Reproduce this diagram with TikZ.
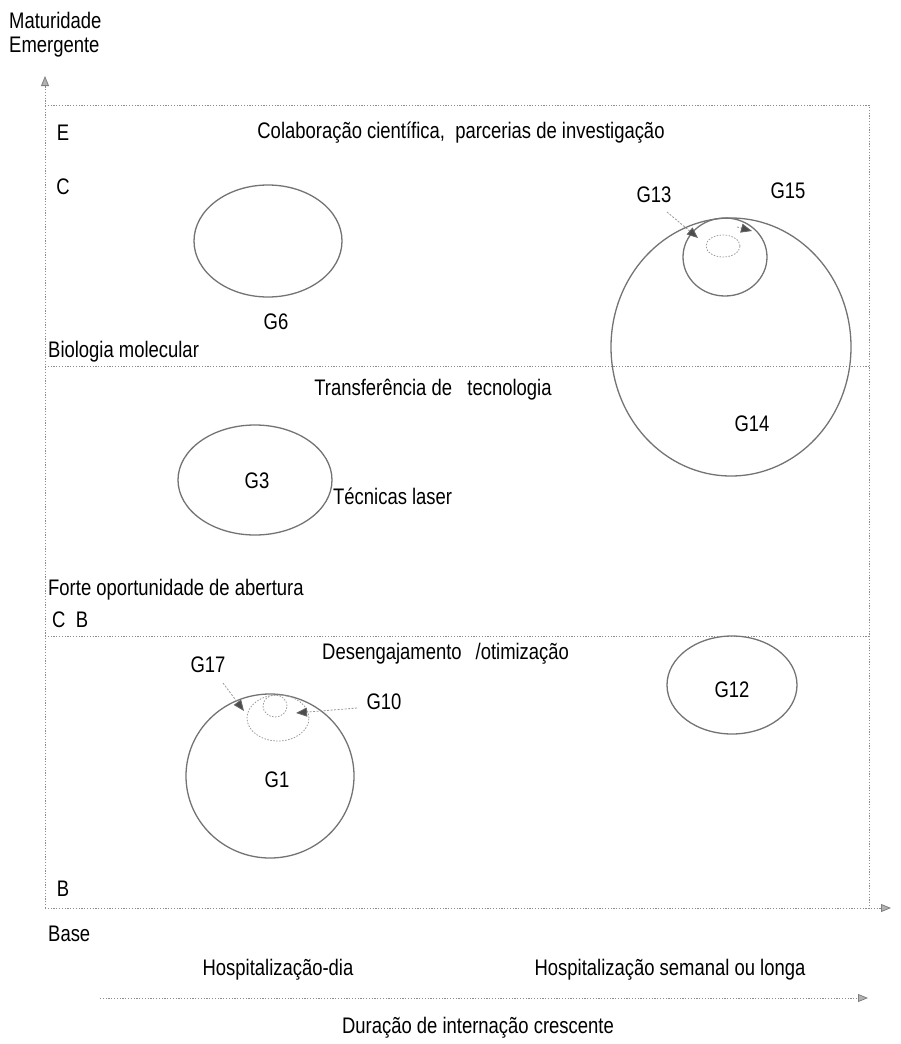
\documentclass[tikz,border=0pt]{standalone}
\usepackage{fontspec}
\setmainfont{Liberation Sans}[FakeStretch=0.82]
\usetikzlibrary{arrows.meta,shapes.geometric}
\begin{document}
\begin{tikzpicture}[x=1pt,y=-1pt,
  every node/.style={font=\fontsize{22.5}{27}\selectfont, inner sep=0pt, text=black},
  frameline/.style={draw=black!45, line width=0.8pt, dash pattern=on 1.2pt off 1.6pt},
  bubble/.style={ellipse, draw=black!55, line width=1.3pt, inner sep=0pt},
  innerbubble/.style={ellipse, draw=black!40, line width=0.8pt, dash pattern=on 1.5pt off 1.5pt, inner sep=0pt},
  ptr/.style={draw=black!40, line width=0.8pt, dash pattern=on 2pt off 1.5pt,
    -{Triangle[length=11pt,width=9pt,fill=black!70,color=black!60]}},
  axis/.style={frameline, -{Triangle[length=10pt,width=8pt,fill=black!30,color=black!50]}},
]
\useasboundingbox (0,0) rectangle (900,1044);

% ---- frame, axes and dividers ----
\coordinate (org) at (45,908);
\coordinate (ytop) at (45,76);
\coordinate (xend) at (891,908);
\coordinate (tl) at (45,105);
\coordinate (tr) at (869,105);
\coordinate (br) at (869,908);
\coordinate (d1l) at (45,366);
\coordinate (d1r) at (869,366);
\coordinate (d2l) at (45,636);
\coordinate (d2r) at (869,636);
\coordinate (ax0) at (100,998);
\coordinate (ax1) at (868,998);

\draw[axis] (org) -- (ytop);
\draw[axis] (org) -- (xend);
\draw[frameline] (tl) -- (tr) -- (br);
\draw[frameline] (d1l) -- (d1r);
\draw[frameline] (d2l) -- (d2r);
\draw[axis] (ax0) -- (ax1);

% ---- axis and zone texts ----
\node[anchor=west] (mat) at (9,20) {Maturidade};
\node[anchor=west] (emg) at (9,47) {Emergente};
\node (zE) at (63,133) {E};
\node (colab) at (461,133) {Colaboração científica,\ \ parcerias de investigação};
\node (zC) at (63,187) {C};
\node[anchor=west] (bio) at (48,352) {Biologia molecular};
\node (transf) at (433,390) {Transferência de\ \ \ tecnologia};
\node[anchor=west] (laser) at (333,496) {Técnicas laser};
\node[anchor=west] (forte) at (48,590) {Forte oportunidade de abertura};
\node[anchor=west] (zCB) at (52,620) {C\ \ B};
\node[anchor=west] (deseng) at (322,654) {Desengajamento\hspace{14pt}/otimização};
\node (zB) at (63,889) {B};
\node[anchor=west] (base) at (48,934) {Base};
\node (hdia) at (278,970) {Hospitalização-dia};
\node (hsem) at (670,970) {Hospitalização semanal ou longa};
\node (durac) at (478,1028) {Duração de internação crescente};

% ---- groups ----
\node[bubble, minimum width=148pt, minimum height=112pt] (g6) at (268,241) {};
\node (g6l) at (276,322) {G6};

\node[bubble, minimum width=240pt, minimum height=258pt] (g14) at (731,347) {};
\node (g14l) at (752,424) {G14};
\node[bubble, minimum width=84pt, minimum height=78pt] (g15) at (725,257) {};
\node[innerbubble, minimum width=34pt, minimum height=22pt] (g13) at (723,246) {};
\node (g13l) at (654,195) {G13};
\node (g15l) at (788,191) {G15};
\coordinate (g13a) at (667,212);
\coordinate (g13b) at (698,238);
\draw[ptr] (g13a) -- (g13b);
\coordinate (g15a) at (737,227);
\coordinate (g15b) at (752,231);
\draw[ptr] (g15a) -- (g15b);

\node[bubble, minimum width=154pt, minimum height=110pt] (g3) at (255,480) {};
\node (g3l) at (257,481) {G3};

\node[bubble, minimum width=130pt, minimum height=98pt] (g12) at (732,685) {};
\node (g12l) at (732,690) {G12};

\node[bubble, minimum width=168pt, minimum height=164pt] (g1) at (270,776) {};
\node (g1l) at (277,780) {G1};
\node[innerbubble, minimum width=62pt, minimum height=46pt] (g17) at (278,718) {};
\node[innerbubble, minimum width=24pt, minimum height=22pt] (g10) at (275,706) {};
\node (g17l) at (208,665) {G17};
\node (g10l) at (384,702) {G10};
\coordinate (g17a) at (223,683);
\coordinate (g17b) at (244,711);
\draw[ptr] (g17a) -- (g17b);
\coordinate (g10a) at (357,708);
\coordinate (g10b) at (296,713);
\draw[ptr] (g10a) -- (g10b);
\end{tikzpicture}
\end{document}
